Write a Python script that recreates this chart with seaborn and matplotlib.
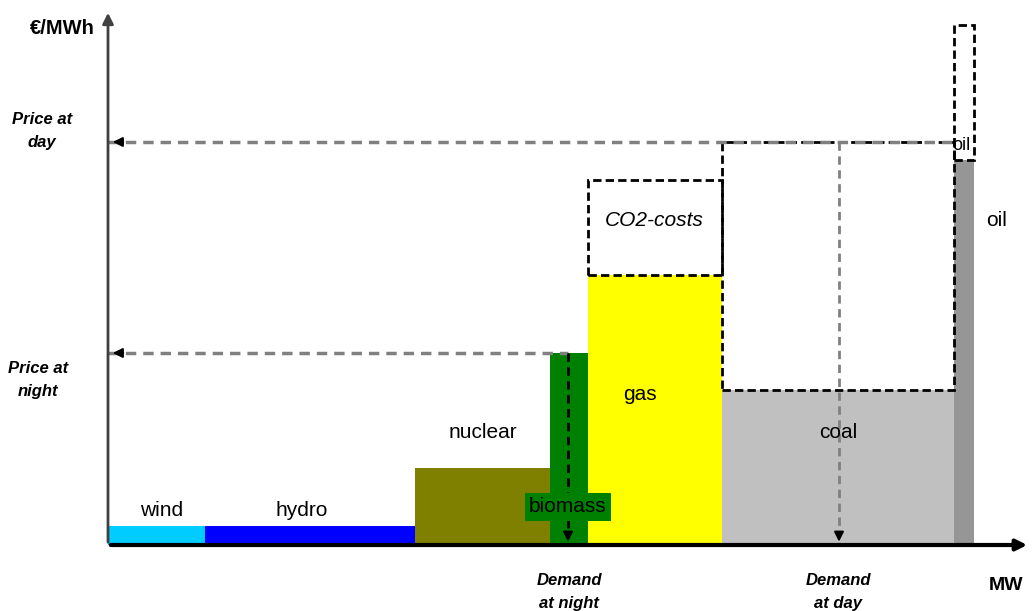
import matplotlib
matplotlib.use("Agg")
import matplotlib.pyplot as plt
import seaborn as sns
import pandas as pd
import numpy as np

# ---- data (arbitrary units) ----
technologies = ["wind", "hydro", "nuclear", "biomass", "gas", "coal", "oil"]
capacity = [9.7, 21.0, 13.5, 3.8, 13.4, 23.2, 2.0]          # MW (relative)
marginal_cost = [1.9, 1.9, 7.7, 19.2, 27.0, 15.5, 38.5]     # €/MWh (relative)
co2_cost = [0, 0, 0, 0, 9.5, 24.8, 13.5]
colors = ["#00CCFF", "#0000FF", "#808000", "#008000", "#FFFF00", "#C0C0C0", "#969696"]
price_night = 19.2
price_day = 40.3
demand_night = 46.0
demand_day = 73.1
x_max = 92.2
y_max = 53.5

sns.set_style("white")
plt.rcParams['font.family'] = ['Liberation Sans', 'DejaVu Sans']
plt.rcParams['text.color'] = 'black'

fig = plt.figure(figsize=(10.33, 6.11), dpi=100)
ax = fig.add_axes([108/1033, (611-545)/611, 922/1033, 535/611])
ax.set_xlim(0, x_max)
ax.set_ylim(0, y_max)
for s in ax.spines.values():
    s.set_visible(False)
ax.set_xticks([])
ax.set_yticks([])

df = pd.DataFrame({"tech": technologies, "cap": capacity, "cost": marginal_cost,
                   "co2": co2_cost, "color": colors})
df["left"] = np.concatenate([[0], np.cumsum(df["cap"].values)[:-1]])

# bars
ax.bar(df["left"], df["cost"], width=df["cap"], align="edge", color=df["color"],
       edgecolor="none", zorder=2)
# CO2 dashed boxes
for _, r in df[df["co2"] > 0].iterrows():
    ax.bar(r["left"], r["co2"], width=r["cap"], bottom=r["cost"], align="edge",
           facecolor="none", edgecolor="black", linestyle=(0, (3, 1.5)), linewidth=2, zorder=3)

# price lines
lines = pd.DataFrame({"x": [0, demand_night, 0, df["left"].iloc[-1]],
                      "y": [price_night, price_night, price_day, price_day],
                      "g": ["n", "n", "d", "d"]})
sns.lineplot(data=lines, x="x", y="y", units="g", estimator=None, color="#808080",
             linewidth=2.5, linestyle=(0, (3, 2)), ax=ax, zorder=4, legend=False)
ax.set_xlabel("")
ax.set_ylabel("")
for yv in [price_night, price_day]:
    ax.annotate("", xy=(0.2, yv), xytext=(1.8, yv),
                arrowprops=dict(arrowstyle="-|>", color="black", lw=1.5, mutation_scale=14), zorder=6)

# demand lines
ax.plot([demand_night, demand_night], [price_night, 1.0], color="black", lw=2,
        linestyle=(0, (3, 2)), zorder=4)
ax.annotate("", xy=(demand_night, 0.05), xytext=(demand_night, 1.5),
            arrowprops=dict(arrowstyle="-|>", color="black", lw=1.5, mutation_scale=14), zorder=6)
ax.plot([demand_day, demand_day], [price_day, 1.0], color="#808080", lw=2,
        linestyle=(0, (3, 2)), zorder=4)
ax.annotate("", xy=(demand_day, 0.05), xytext=(demand_day, 1.5),
            arrowprops=dict(arrowstyle="-|>", color="black", lw=1.5, mutation_scale=14), zorder=6)

# axes arrows
ax.annotate("", xy=(0, y_max), xytext=(0, 0),
            arrowprops=dict(arrowstyle="-|>", color="#404040", lw=2, mutation_scale=16),
            annotation_clip=False, zorder=7)
ax.annotate("", xy=(x_max, 0), xytext=(0, 0),
            arrowprops=dict(arrowstyle="-|>", color="black", lw=3, mutation_scale=16),
            annotation_clip=False, zorder=7)

# labels
fs = 15
ax.text(5.4, 3.5, "wind", ha="center", va="center", fontsize=fs, zorder=8)
ax.text(19.4, 3.5, "hydro", ha="center", va="center", fontsize=fs, zorder=8)
ax.text(37.5, 11.2, "nuclear", ha="center", va="center", fontsize=fs, zorder=8)
ax.text(46.0, 3.8, "biomass", ha="center", va="center", fontsize=fs, zorder=8,
        bbox=dict(boxstyle="square,pad=0.2", facecolor="#008000", edgecolor="none"))
ax.text(53.2, 15.1, "gas", ha="center", va="center", fontsize=fs, zorder=8)
ax.text(73.0, 11.2, "coal", ha="center", va="center", fontsize=fs, zorder=8)
ax.text(54.6, 32.5, "CO2-costs", ha="center", va="center", fontsize=fs, style="italic", zorder=8)
ax.text(88.9, 32.5, "oil", ha="center", va="center", fontsize=fs, zorder=8)
ax.text(85.3, 40.0, "oil", ha="center", va="center", fontsize=13, zorder=8)

lab = dict(fontsize=12, style="italic", fontweight="bold", ha="center", va="center")
fig.text(62/1033, 1 - 28/611, "€/MWh", fontsize=14.5, fontweight="bold", ha="center", va="center")
fig.text(42/1033, 1 - 131/611, "Price at\nday", linespacing=1.6, **lab)
fig.text(38/1033, 1 - 380/611, "Price at\nnight", linespacing=1.6, **lab)
fig.text(569/1033, 1 - 592/611, "Demand\nat night", linespacing=1.6, **lab)
fig.text(838/1033, 1 - 592/611, "Demand\nat day", linespacing=1.6, **lab)
fig.text(1006/1033, 1 - 585/611, "MW", fontsize=14, fontweight="bold", ha="center", va="center")

fig.savefig("out.png", dpi=100)
